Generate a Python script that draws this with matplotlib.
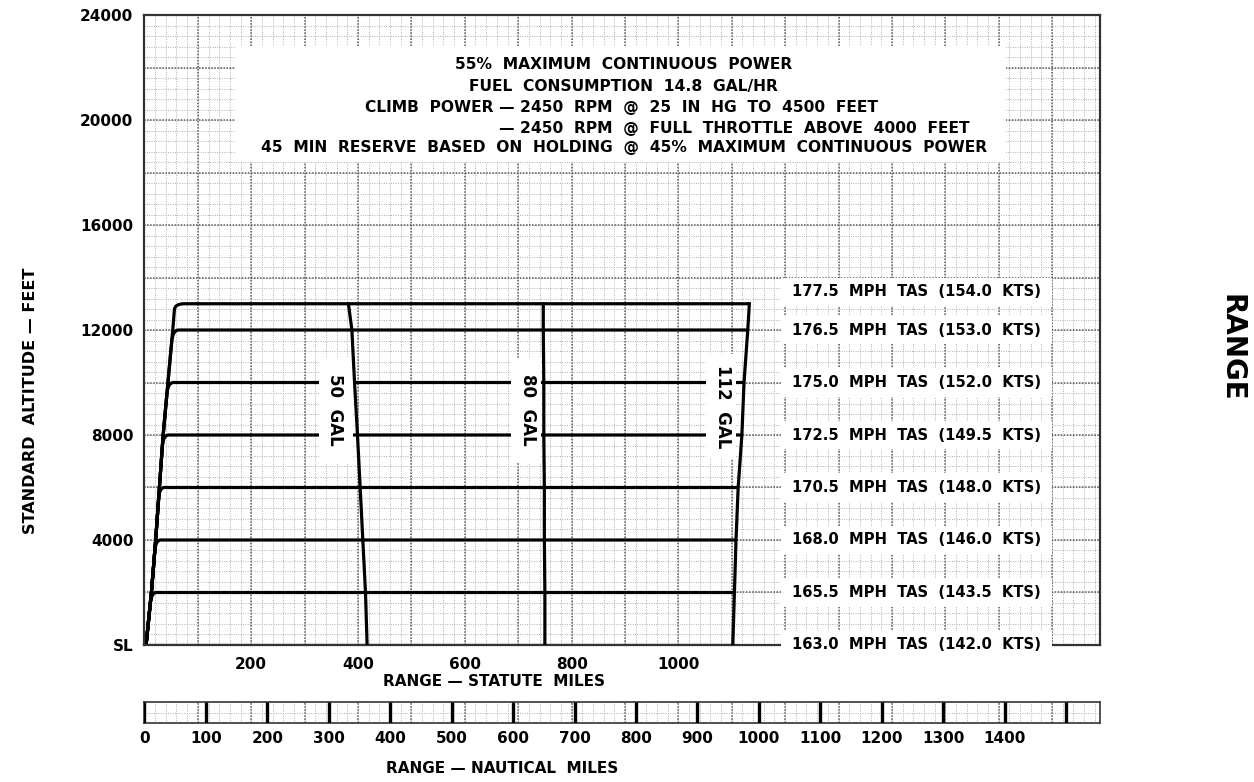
import numpy as np
import matplotlib
matplotlib.use('Agg')
import matplotlib.pyplot as plt
from matplotlib.patches import Rectangle, PathPatch
from matplotlib.path import Path

plt.rcParams['font.family'] = 'DejaVu Sans'
plt.rcParams['font.weight'] = 'bold'

# ---- data ----
SM_TO_NM = 1 / 1.15078
X_MAX = 1790          # statute miles at right edge of graph paper
Y_MAX = 24000

ALTITUDES = [0, 2000, 4000, 6000, 8000, 10000, 12000, 13000]
CLIMB_DIST = [3, 13, 21, 28, 35, 44, 53, 57]          # statute mi to reach altitude
LEVEL_OFF = [0, 9, 9, 9, 10, 10, 11, 18]              # mi used to round into cruise
RANGE_50 = [417, 414, 409, 404, 399, 393.5, 388.5, 382]
RANGE_80 = [750, 750, 749, 749, 748, 748, 747, 747]
RANGE_112 = [1102, 1105, 1108, 1112, 1119, 1123, 1130, 1133]

TAS_LABELS = ['163.0  MPH  TAS  (142.0  KTS)', '165.5  MPH  TAS  (143.5  KTS)',
              '168.0  MPH  TAS  (146.0  KTS)', '170.5  MPH  TAS  (148.0  KTS)',
              '172.5  MPH  TAS  (149.5  KTS)', '175.0  MPH  TAS  (152.0  KTS)',
              '176.5  MPH  TAS  (153.0  KTS)', '177.5  MPH  TAS  (154.0  KTS)']
TAS_LABEL_ALT = [0, 2000, 4000, 6000, 8000, 10000, 12000, 13450]

GAL_LABELS = ['50  GAL', '80  GAL', '112  GAL']
GAL_LABEL_X = [357, 718, 1083]
GAL_LABEL_Y = [8950, 8950, 9080]

SM_TICKS = [200, 400, 600, 800, 1000]
ALT_TICKS = [0, 4000, 8000, 12000, 16000, 20000, 24000]
ALT_TICK_LABELS = ['SL', '4000', '8000', '12000', '16000', '20000', '24000']
NM_TICKS = list(range(0, 1600, 100))
NM_TICK_LABELS = [str(v) for v in range(0, 1500, 100)] + ['']

TITLE_LINES = ['55%  MAXIMUM  CONTINUOUS  POWER',
               'FUEL  CONSUMPTION  14.8  GAL/HR']
CLIMB_HEAD = 'CLIMB  POWER '
CLIMB_LINES = ['\u2014 2450  RPM  @  25  IN  HG  TO  4500  FEET',
               '\u2014 2450  RPM  @  FULL  THROTTLE  ABOVE  4000  FEET']
RESERVE_LINE = '45  MIN  RESERVE  BASED  ON  HOLDING  @  45%  MAXIMUM  CONTINUOUS  POWER'

# ---- figure ----
fig = plt.figure(figsize=(12.54, 7.82), dpi=100)
L, W = 0.1152, 0.7621
ax = fig.add_axes([L, 0.1752, W, 0.8056])
ax.set_xlim(0, X_MAX)
ax.set_ylim(0, Y_MAX)

MINOR_C = '#a5a5a5'
MAJOR_C = '#5a5a5a'


def paper(a, xs_minor, xs_major, ys_minor, ys_major, y0, y1):
    a.vlines(xs_minor, y0, y1, colors=MINOR_C, lw=0.65, linestyles=(0, (1, 1.6)), zorder=1)
    a.vlines(xs_major, y0, y1, colors=MAJOR_C, lw=1.1, linestyles=(0, (1, 1.0)), zorder=1)
    if len(ys_minor):
        a.hlines(ys_minor, 0, a.get_xlim()[1], colors=MINOR_C, lw=0.65,
                 linestyles=(0, (1, 1.6)), zorder=1)
    if len(ys_major):
        a.hlines(ys_major, 0, a.get_xlim()[1], colors=MAJOR_C, lw=1.1,
                 linestyles=(0, (1, 1.0)), zorder=1)


paper(ax, np.arange(0, X_MAX, 20), np.arange(0, X_MAX, 100),
      np.arange(0, Y_MAX, 400), np.arange(0, Y_MAX, 2000), 0, Y_MAX)

for s in ax.spines.values():
    s.set_linewidth(1.6)
    s.set_color('#333333')

# white panels over the graph paper
ax.add_patch(Rectangle((170, 18400), 1444, 4420, facecolor='white', edgecolor='none', zorder=3))
for ya in TAS_LABEL_ALT:
    ax.add_patch(Rectangle((1192, ya - 540), 507, 1080, facecolor='white',
                           edgecolor='none', zorder=3, clip_on=False))
GAL_BOX = [(326, 390), (686, 743), (1052, 1108)]
for (x0, x1), yc in zip(GAL_BOX, GAL_LABEL_Y):
    ax.add_patch(Rectangle((x0, yc - 2000), x1 - x0, 4000, facecolor='white',
                           edgecolor='none', zorder=3))

# cruise lines branching off the climb envelope
ax.plot([0, RANGE_112[0]], [0, 0], color='black', lw=2.3, zorder=2, solid_capstyle='butt')
for i in range(1, len(ALTITUDES)):
    verts = [(CLIMB_DIST[k], ALTITUDES[k]) for k in range(i)]
    codes = [Path.MOVETO] + [Path.LINETO] * (i - 1)
    px, py = verts[-1]
    cx, cy = CLIMB_DIST[i], ALTITUDES[i]
    verts += [(px + 0.78 * (cx - px), py + 0.78 * (cy - py)),
              (cx, cy), (cx + LEVEL_OFF[i], cy), (RANGE_112[i], cy)]
    codes += [Path.LINETO, Path.CURVE3, Path.CURVE3, Path.LINETO]
    ax.add_patch(PathPatch(Path(verts, codes), facecolor='none', edgecolor='black',
                           lw=2.3, zorder=2, joinstyle='round'))

for rng in (RANGE_50, RANGE_80, RANGE_112):
    ax.plot(rng, ALTITUDES, color='black', lw=2.3, zorder=4)

# labels
for txt, gx, gy in zip(GAL_LABELS, GAL_LABEL_X, GAL_LABEL_Y):
    ax.text(gx, gy, txt, rotation=-90, ha='center', va='center', fontsize=12, zorder=5)
for txt, ya in zip(TAS_LABELS, TAS_LABEL_ALT):
    ax.text(1446, ya, txt, ha='center', va='center', fontsize=10.6, zorder=5)

TITLE_FS = 11.2
TITLE_Y = [22100, 21260, 20460, 19690, 18970]
ax.text(898, TITLE_Y[0], TITLE_LINES[0], ha='center', va='center', fontsize=TITLE_FS, zorder=5)
ax.text(898, TITLE_Y[1], TITLE_LINES[1], ha='center', va='center', fontsize=TITLE_FS, zorder=5)
ax.text(664, TITLE_Y[2], CLIMB_HEAD, ha='right', va='center', fontsize=TITLE_FS, zorder=5)
ax.text(664, TITLE_Y[2], CLIMB_LINES[0], ha='left', va='center', fontsize=TITLE_FS, zorder=5)
ax.text(664, TITLE_Y[3], CLIMB_LINES[1], ha='left', va='center', fontsize=TITLE_FS, zorder=5)
ax.text(898, TITLE_Y[4], RESERVE_LINE, ha='center', va='center', fontsize=TITLE_FS, zorder=5)

ax.set_xticks(SM_TICKS)
ax.set_xticklabels([str(v) for v in SM_TICKS], fontsize=11)
ax.set_yticks(ALT_TICKS)
ax.set_yticklabels(ALT_TICK_LABELS, fontsize=11)
ax.tick_params(length=0)
ax.tick_params(axis='x', pad=9)
ax.tick_params(axis='y', pad=8)

ax.text(655, -1400, 'RANGE \u2014 STATUTE  MILES', ha='center', va='center', fontsize=11)
fig.text(0.024, 0.488, 'STANDARD  ALTITUDE \u2014 FEET', rotation=90, ha='center',
         va='center', fontsize=11.5)
fig.text(0.982, 0.555, 'RANGE', rotation=-90, ha='center', va='center', fontsize=20)

# nautical miles bar
bar = fig.add_axes([L, 0.0754, W, 0.0269])
bar.set_xlim(0, X_MAX * SM_TO_NM)
bar.set_ylim(0, 1)
paper(bar, np.arange(0, X_MAX, 20) * SM_TO_NM, np.arange(0, X_MAX, 100) * SM_TO_NM,
      [0.5], [], 0, 1)
bar.vlines(NM_TICKS, 0, 1, colors='black', lw=2.4, zorder=3)
bar.set_xticks(NM_TICKS)
bar.set_xticklabels(NM_TICK_LABELS, fontsize=11)
bar.set_yticks([])
bar.tick_params(length=0, pad=6)
for s in bar.spines.values():
    s.set_linewidth(1.2)
    s.set_color('#333333')
bar.text(582, -2.15, 'RANGE \u2014 NAUTICAL  MILES', ha='center', va='center', fontsize=11,
         transform=bar.transData)

fig.savefig('out.png', dpi=100, facecolor='white')
